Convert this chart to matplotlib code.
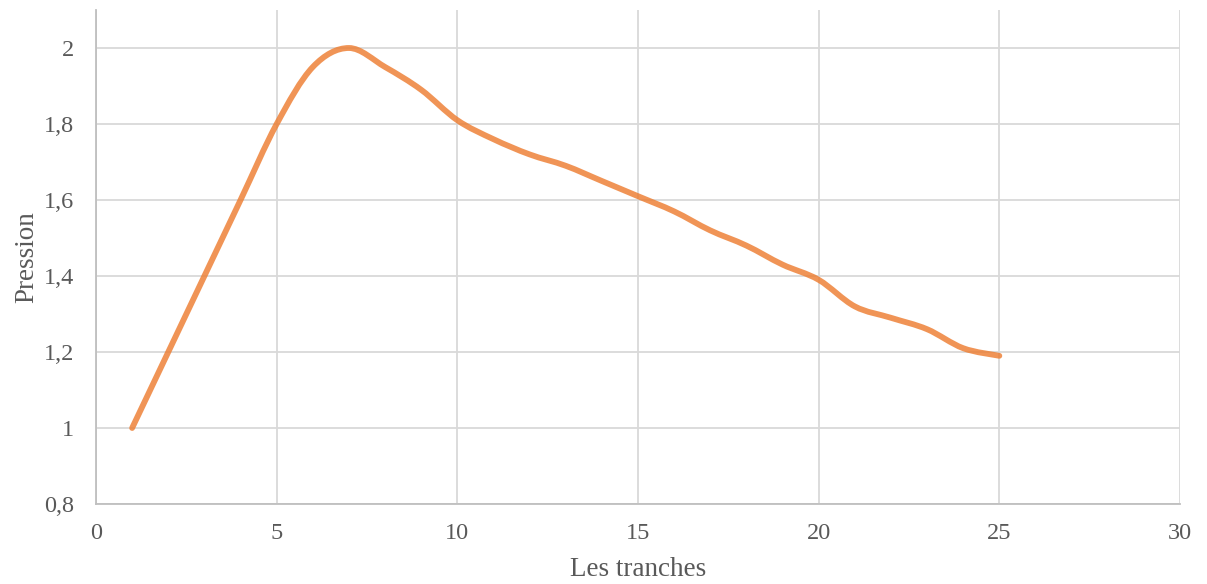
import numpy as np
import matplotlib
matplotlib.use("Agg")
import matplotlib.pyplot as plt
from matplotlib.path import Path
from matplotlib.patches import PathPatch
from matplotlib.ticker import FuncFormatter

# Pression par tranche
tranches = [1, 2, 3, 4, 5, 6, 7, 8, 9, 10, 11, 12, 13, 14, 15, 16, 17, 18, 19, 20, 21, 22, 23, 24, 25]
pression = [1.00, 1.20, 1.40, 1.60, 1.80, 1.95, 2.00, 1.95, 1.89, 1.81, 1.76, 1.72, 1.69,
            1.65, 1.61, 1.57, 1.52, 1.48, 1.43, 1.39, 1.32, 1.29, 1.26, 1.21, 1.19]

x_ticks = [0, 5, 10, 15, 20, 25, 30]
y_ticks = [0.8, 1.0, 1.2, 1.4, 1.6, 1.8, 2.0]

TEXT = "#595959"
GRID = "#D9D9D9"
LINE = "#ED7D31"

plt.rcParams["font.family"] = ["Liberation Serif", "DejaVu Serif"]

fig = plt.figure(figsize=(12.07, 5.84), dpi=100)
ax = fig.add_axes([96 / 1207, 80 / 584, (1180 - 96) / 1207, (574 - 80) / 584])

ax.set_xlim(0, 30)
ax.set_ylim(0.8, 2.1)
ax.set_xticks(x_ticks)
ax.set_yticks(y_ticks)


def comma(v, _pos):
    s = f"{v:.1f}".rstrip("0").rstrip(".")
    return s.replace(".", ",")


ax.yaxis.set_major_formatter(FuncFormatter(comma))
ax.xaxis.set_major_formatter(FuncFormatter(lambda v, p: f"{int(v)}"))

ax.grid(True, color=GRID, linewidth=1.3)
ax.set_axisbelow(True)
for side in ("top", "right"):
    ax.spines[side].set_visible(False)
for side in ("left", "bottom"):
    ax.spines[side].set_color("#BFBFBF")
    ax.spines[side].set_linewidth(1.3)
ax.tick_params(length=0, labelsize=17.5, colors=TEXT)
ax.tick_params(axis="x", pad=14)
ax.tick_params(axis="y", pad=16)

# Smoothed series: cubic Bezier segments through each data point
pts = np.column_stack([tranches, pression]).astype(float)
ext = np.vstack([pts[0], pts, pts[-1]])
verts = [tuple(pts[0])]
codes = [Path.MOVETO]
for i in range(1, len(ext) - 2):
    p0, p1, p2, p3 = ext[i - 1], ext[i], ext[i + 1], ext[i + 2]
    c1 = p1 + (p2 - p0) / 6.0
    c2 = p2 - (p3 - p1) / 6.0
    verts += [tuple(c1), tuple(c2), tuple(p2)]
    codes += [Path.CURVE4] * 3
curve = PathPatch(Path(verts, codes), facecolor="none", edgecolor=LINE,
                  linewidth=4.2, alpha=0.82, capstyle="round", joinstyle="round")
ax.add_patch(curve)

ax.set_xlabel("Les tranches", fontsize=19.5, color=TEXT, labelpad=9)
ax.set_ylabel("Pression", fontsize=19.5, color=TEXT, labelpad=3)

fig.savefig("out.png", dpi=100)
